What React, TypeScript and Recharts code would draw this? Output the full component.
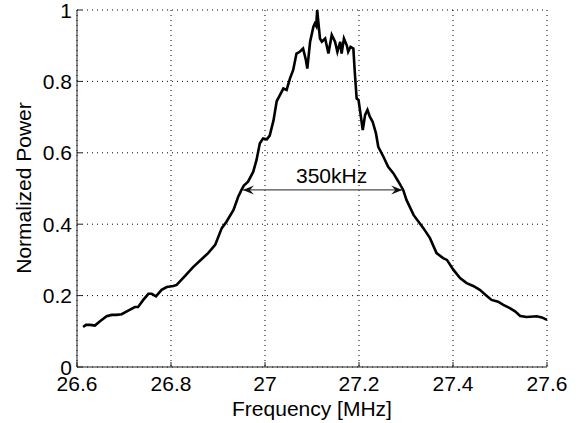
import React from 'react';
import { LineChart, Line, XAxis, YAxis, CartesianGrid, ReferenceLine } from 'recharts';

// frequency in MHz, normalized power
const freqs = [
  26.613, 26.619, 26.628, 26.638, 26.649, 26.663, 26.674, 26.684, 26.695, 26.709,
  26.723, 26.730, 26.741, 26.752, 26.759, 26.768, 26.780, 26.791, 26.805, 26.812,
  26.830, 26.847, 26.865, 26.879, 26.894, 26.908, 26.918, 26.933, 26.943, 26.950,
  26.955, 26.964, 26.975, 26.982, 26.989, 26.996, 27.004, 27.010, 27.018, 27.025,
  27.032, 27.039, 27.046, 27.053, 27.060, 27.067, 27.074, 27.081, 27.087, 27.090,
  27.096, 27.103, 27.106, 27.109, 27.111, 27.114, 27.117, 27.121, 27.128, 27.135,
  27.142, 27.149, 27.154, 27.160, 27.163, 27.168, 27.174, 27.177, 27.182, 27.188,
  27.191, 27.195, 27.199, 27.202, 27.208, 27.213, 27.218, 27.223, 27.229, 27.236,
  27.241, 27.252, 27.262, 27.273, 27.284, 27.294, 27.301, 27.316, 27.337, 27.351,
  27.365, 27.379, 27.387, 27.401, 27.415, 27.429, 27.443, 27.457, 27.472, 27.482,
  27.496, 27.507, 27.521, 27.532, 27.543, 27.557, 27.578, 27.589, 27.600,
];
const powers = [
  0.112, 0.118, 0.118, 0.116, 0.128, 0.142, 0.146, 0.146, 0.148, 0.158,
  0.168, 0.168, 0.188, 0.205, 0.205, 0.198, 0.216, 0.224, 0.227, 0.230,
  0.255, 0.280, 0.302, 0.319, 0.342, 0.389, 0.407, 0.440, 0.477, 0.496,
  0.508, 0.519, 0.547, 0.580, 0.627, 0.640, 0.638, 0.648, 0.690, 0.745,
  0.762, 0.780, 0.776, 0.808, 0.832, 0.878, 0.883, 0.892, 0.860, 0.836,
  0.911, 0.953, 0.962, 0.955, 1.000, 0.960, 0.920, 0.911, 0.920, 0.878,
  0.930, 0.911, 0.883, 0.911, 0.878, 0.920, 0.901, 0.883, 0.897, 0.892,
  0.827, 0.752, 0.748, 0.720, 0.664, 0.706, 0.720, 0.701, 0.687, 0.655,
  0.617, 0.589, 0.561, 0.543, 0.519, 0.496, 0.468, 0.426, 0.389, 0.361,
  0.319, 0.305, 0.300, 0.272, 0.249, 0.235, 0.227, 0.216, 0.199, 0.188,
  0.183, 0.174, 0.165, 0.156, 0.143, 0.140, 0.142, 0.139, 0.132,
];

const xTicks = [26.6, 26.8, 27, 27.2, 27.4, 27.6];
const yTicks = [0, 0.2, 0.4, 0.6, 0.8, 1];

// -3 dB width marker
const bandStart = 26.953;
const bandEnd = 27.292;
const bandLevel = 0.496;
const bandLabel = '350kHz';

const data = freqs.map((f, i) => ({ freq: f, power: powers[i] }));

const FONT = 'Liberation Sans, Arial, Helvetica, sans-serif';
const TICK = 5;

const BottomTick = (props: any) => {
  const { x, y, payload } = props;
  return (
    <g>
      <line x1={x} y1={y} x2={x} y2={y - TICK} stroke="#222" />
      <text x={x} y={y + 24} textAnchor="middle" fontSize={21} fill="#000" fontFamily={FONT}>
        {payload.value}
      </text>
    </g>
  );
};

const TopTick = (props: any) => {
  const { x, y } = props;
  return <line x1={x} y1={y} x2={x} y2={y + TICK} stroke="#222" />;
};

const LeftTick = (props: any) => {
  const { x, y, payload } = props;
  return (
    <g>
      <line x1={x} y1={y} x2={x + TICK} y2={y} stroke="#222" />
      <text x={x - 5} y={y + 7.5} textAnchor="end" fontSize={21} fill="#000" fontFamily={FONT}>
        {payload.value}
      </text>
    </g>
  );
};

const RightTick = (props: any) => {
  const { x, y } = props;
  return <line x1={x} y1={y} x2={x - TICK} y2={y} stroke="#222" />;
};

const BandArrow = (props: any) => {
  const { x1, y1, x2 } = props;
  const l = Math.min(x1, x2);
  const r = Math.max(x1, x2);
  return (
    <g>
      <line x1={l} y1={y1} x2={r} y2={y1} stroke="#4d4d4d" strokeWidth={1.2} />
      <path d={`M${l},${y1} L${l + 11},${y1 - 4.5} L${l + 7},${y1} L${l + 11},${y1 + 4.5} Z`} fill="#111" />
      <path d={`M${r},${y1} L${r - 11},${y1 - 4.5} L${r - 7},${y1} L${r - 11},${y1 + 4.5} Z`} fill="#111" />
      <text x={(l + r) / 2 + 9} y={y1 - 7} textAnchor="middle" fontSize={21} fill="#000" fontFamily={FONT}>
        {bandLabel}
      </text>
    </g>
  );
};

export default function App() {
  return (
    <div style={{ position: 'absolute', left: 0, top: 0, background: '#fff' }}>
      <LineChart
        width={579}
        height={423}
        data={data}
        margin={{ top: 10, right: 32, left: 0, bottom: 0 }}
        style={{ fontFamily: FONT }}
      >
        <CartesianGrid stroke="#000" strokeDasharray="1 4" strokeWidth={1} />
        <XAxis
          dataKey="freq"
          type="number"
          domain={[26.6, 27.6]}
          ticks={xTicks}
          height={56}
          axisLine={{ stroke: '#222' }}
          tickLine={false}
          tickSize={0}
          tickMargin={0}
          tick={<BottomTick />}
          interval={0}
          label={() => (
            <text x={312} y={416} textAnchor="middle" fontSize={21} fill="#000" fontFamily={FONT}>
              Frequency [MHz]
            </text>
          )}
        />
        <XAxis
          xAxisId="top"
          orientation="top"
          dataKey="freq"
          type="number"
          domain={[26.6, 27.6]}
          ticks={xTicks}
          height={0}
          axisLine={{ stroke: '#222' }}
          tickLine={false}
          tickSize={0}
          tickMargin={0}
          tick={<TopTick />}
          interval={0}
        />
        <YAxis
          type="number"
          domain={[0, 1]}
          ticks={yTicks}
          width={77}
          axisLine={{ stroke: '#222' }}
          tickLine={false}
          tickSize={0}
          tickMargin={0}
          tick={<LeftTick />}
          interval={0}
          label={() => (
            <text
              x={31}
              y={188}
              transform="rotate(-90 31 188)"
              textAnchor="middle"
              fontSize={21}
              fill="#000"
              fontFamily={FONT}
            >
              Normalized Power
            </text>
          )}
        />
        <YAxis
          yAxisId="right"
          orientation="right"
          type="number"
          domain={[0, 1]}
          ticks={yTicks}
          width={0}
          axisLine={{ stroke: '#222' }}
          tickLine={false}
          tickSize={0}
          tickMargin={0}
          tick={<RightTick />}
          interval={0}
        />
        <Line
          type="linear"
          dataKey="power"
          stroke="#000"
          strokeWidth={2.6}
          dot={false}
          isAnimationActive={false}
        />
        <ReferenceLine
          segment={[
            { x: bandStart, y: bandLevel },
            { x: bandEnd, y: bandLevel },
          ]}
          shape={<BandArrow />}
        />
      </LineChart>
    </div>
  );
}
